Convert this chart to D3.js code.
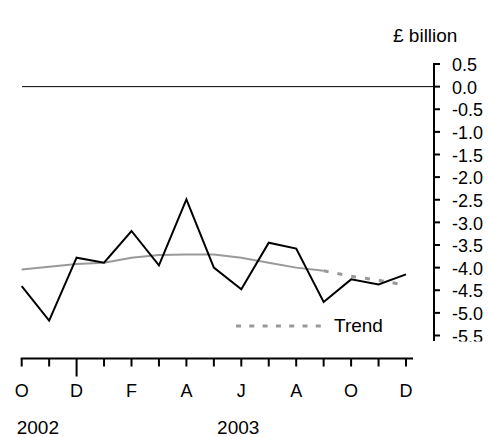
<!DOCTYPE html>
<html>
<head>
<meta charset="utf-8">
<script src="https://cdn.jsdelivr.net/npm/d3@7"></script>
<style>
  body { margin: 0; background: #fff; }
  text { font-family: "Liberation Sans", Arial, sans-serif; fill: #000; }
</style>
</head>
<body>
<svg id="chart"></svg>
<script>
// Months from Oct 2002 to Dec 2003
const months = ["Oct02","Nov02","Dec02","Jan03","Feb03","Mar03","Apr03","May03",
                "Jun03","Jul03","Aug03","Sep03","Oct03","Nov03","Dec03"];
const monthLetters = ["O","","D","","F","","A","","J","","A","","O","","D"];
const years = [{label: "2002", i: 0}, {label: "2003", i: 7.3}];

// Monthly balance, £ billion
const balance = [-4.41, -5.17, -3.78, -3.89, -3.19, -3.95, -2.49, -4.0,
                 -4.48, -3.45, -3.58, -4.76, -4.26, -4.37, -4.15];
// Trend (solid part) and projected trend (dashed part)
const trend = [-4.04, -3.98, -3.92, -3.89, -3.78, -3.72, -3.71, -3.71,
               -3.78, -3.89, -4.0, -4.07];
const trendProjected = [-4.07, -4.19, -4.28, -4.39]; // Sep03 .. Dec03

const yTicks = [0.5, 0.0, -0.5, -1.0, -1.5, -2.0, -2.5, -3.0, -3.5, -4.0, -4.5, -5.0, -5.5];

const width = 488, height = 437;
const svg = d3.select("#chart").attr("width", width).attr("height", height);

const x = d3.scaleLinear().domain([0, 14]).range([21.7, 406]);
const y = d3.scaleLinear().domain([0.5, -5.5]).range([64, 335.5]);

// zero line
svg.append("line")
    .attr("x1", 22).attr("x2", 434)
    .attr("y1", y(0)).attr("y2", y(0))
    .attr("stroke", "#000").attr("stroke-width", 1);

// right-hand y axis
const yAxis = svg.append("g").attr("transform", "translate(434,0)");
yAxis.append("line")
    .attr("x1", 0).attr("x2", 0)
    .attr("y1", y(0.5) - 1).attr("y2", 341)
    .attr("stroke", "#000").attr("stroke-width", 2);
yAxis.selectAll(".ytick")
    .data(yTicks)
    .enter().append("line")
    .attr("x1", 0).attr("x2", 6)
    .attr("y1", d => y(d)).attr("y2", d => y(d))
    .attr("stroke", "#000").attr("stroke-width", 2);
yAxis.selectAll(".ylabel")
    .data(yTicks)
    .enter().append("text")
    .attr("x", 18)
    .attr("y", d => y(d))
    .attr("dy", "0.4em")
    .attr("font-size", "18px")
    .text(d => d.toFixed(1));

svg.append("text")
    .attr("x", 393).attr("y", 42)
    .attr("font-size", "19px")
    .text("£ billion");

// the original cuts the lowest label
svg.append("rect")
    .attr("x", 436).attr("y", 341.5)
    .attr("width", 52).attr("height", 15)
    .attr("fill", "#fff");

// bottom axis
const xAxisY = 358.5;
svg.append("line")
    .attr("x1", 20.7).attr("x2", 413)
    .attr("y1", xAxisY).attr("y2", xAxisY)
    .attr("stroke", "#000").attr("stroke-width", 2);
svg.selectAll(".xtick")
    .data(months)
    .enter().append("line")
    .attr("x1", (d, i) => x(i)).attr("x2", (d, i) => x(i))
    .attr("y1", xAxisY)
    .attr("y2", (d, i) => i === 2 ? xAxisY + 18 : xAxisY + 8)
    .attr("stroke", "#000").attr("stroke-width", 2);
svg.selectAll(".xlabel")
    .data(monthLetters)
    .enter().append("text")
    .attr("x", (d, i) => x(i))
    .attr("y", 397)
    .attr("text-anchor", "middle")
    .attr("font-size", "18px")
    .text(d => d);
svg.selectAll(".year")
    .data(years)
    .enter().append("text")
    .attr("x", d => x(d.i) - 5)
    .attr("y", 434)
    .attr("font-size", "19px")
    .text(d => d.label);

// lines
const line = d3.line().x(d => x(d.i)).y(d => y(d.v));

svg.append("path")
    .datum(trend.map((v, i) => ({i: i, v: v})))
    .attr("d", line)
    .attr("fill", "none").attr("stroke", "#999").attr("stroke-width", 2);

svg.append("path")
    .datum(trendProjected.map((v, i) => ({i: i + 11, v: v})))
    .attr("d", line)
    .attr("fill", "none").attr("stroke", "#999").attr("stroke-width", 3)
    .attr("stroke-dasharray", "5,9");

svg.append("path")
    .datum(balance.map((v, i) => ({i: i, v: v})))
    .attr("d", line)
    .attr("fill", "none").attr("stroke", "#000").attr("stroke-width", 2);

// legend
svg.append("line")
    .attr("x1", 236).attr("x2", 327)
    .attr("y1", 326).attr("y2", 326)
    .attr("stroke", "#999").attr("stroke-width", 3)
    .attr("stroke-dasharray", "5,8.3");
svg.append("text")
    .attr("x", 334).attr("y", 332)
    .attr("font-size", "19px")
    .text("Trend");
</script>
</body>
</html>
